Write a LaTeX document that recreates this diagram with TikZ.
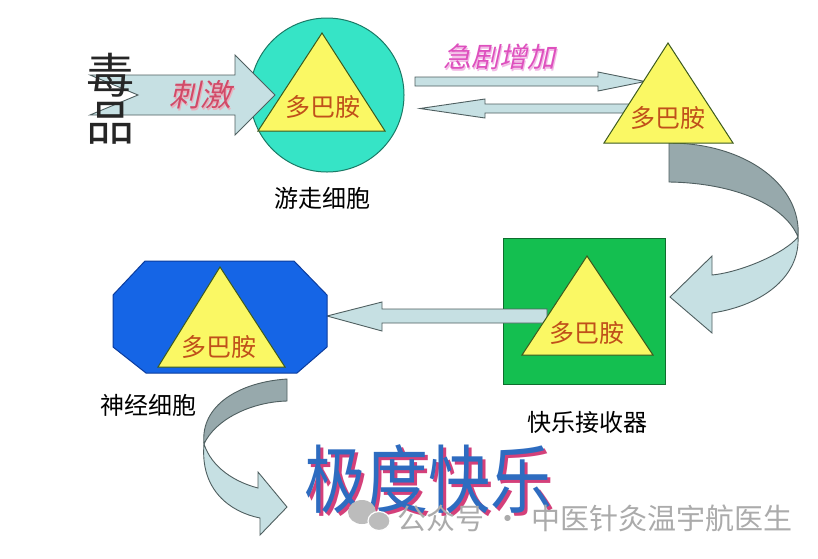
\documentclass[tikz,border=0pt]{standalone}
\usepackage{fontspec}
\newfontfamily\cjk{Noto Sans CJK SC}
\newfontfamily\cjkit[FakeSlant=0.22]{Noto Sans CJK SC}
\definecolor{circ}{HTML}{36E4C6}
\definecolor{circedge}{HTML}{1B7A66}
\definecolor{triyel}{HTML}{FAF864}
\definecolor{triedge}{HTML}{3C5A1E}
\definecolor{sqgreen}{HTML}{14BF50}
\definecolor{sqedge}{HTML}{0E6E2E}
\definecolor{octblue}{HTML}{1565E6}
\definecolor{octedge}{HTML}{0B3C9E}
\definecolor{arrlight}{HTML}{C6E0E3}
\definecolor{arrdark}{HTML}{97A9AC}
\definecolor{arredge}{HTML}{4F5F60}
\definecolor{dopatext}{HTML}{C0501A}
\definecolor{stimred}{HTML}{D24A68}
\definecolor{risepink}{HTML}{DE50BE}
\definecolor{joyblue}{HTML}{2E6CC0}
\definecolor{joyshadow}{HTML}{D4407A}
\definecolor{wmgrey}{HTML}{ABABAB}
\begin{document}
\begin{tikzpicture}[x=1pt,y=-1pt,
  every node/.style={inner sep=0pt},
  tri/.style={fill=triyel, draw=triedge, line width=1pt, line join=miter},
  lbl/.style={font=\cjk\fontsize{24}{24}\selectfont, text=black},
  dopa/.style={font=\cjk\fontsize{25}{25}\selectfont, text=dopatext},
  blockarrow/.style={fill=arrlight, draw=arredge, line width=0.9pt, line join=miter},
  backband/.style={fill=arrdark, draw=arredge, line width=0.9pt, line join=miter},
]
\useasboundingbox (0,0) rectangle (818,558);
\fill[white] (0,0) rectangle (818,558);

% wandering cell
\node[circle, minimum size=154pt, fill=circ, draw=circedge, line width=1pt] (cell1) at (327,95) {};
% stimulus arrow
\draw[blockarrow] (90,75) -- (235,75) -- (235,55) -- (275,95) -- (235,135) -- (235,115) -- (90,115) -- (138,95) -- cycle;
\node[font=\cjkit\fontsize{31}{31}\selectfont, text=stimred!45] at (201.5,96.5) {刺激};
\node[font=\cjkit\fontsize{31}{31}\selectfont, text=stimred] (stim) at (200,95) {刺激};
\draw[tri] (322,33) -- (385,131) -- (258,131) -- cycle;
\node[dopa] (d1) at (323,107) {多巴胺};
\node[font=\cjk\fontsize{48}{48}\selectfont, text=black!85] (du) at (110,75) {毒};
\node[font=\cjk\fontsize{48}{48}\selectfont, text=black!85] (pin) at (110,123) {品};
\node[lbl] (l1) at (322,198) {游走细胞};

% thin arrows
\draw[blockarrow] (415,77) -- (598,77) -- (598,72) -- (645,81.5) -- (598,91) -- (598,86) -- (415,86) -- cycle;
\draw[blockarrow] (640,104) -- (485,104) -- (485,99) -- (420,108.5) -- (485,118) -- (485,113) -- (640,113) -- cycle;
\node[font=\cjkit\fontsize{28}{28}\selectfont, text=risepink!40] at (500.5,58.5) {急剧增加};
\node[font=\cjkit\fontsize{28}{28}\selectfont, text=risepink] (rise) at (499,57) {急剧增加};

% curved arrow top right
\draw[backband] (669,143) .. controls (745,143) and (802,185) .. (798,237)
   .. controls (785,205) and (735,183) .. (669,182) -- cycle;
\draw[blockarrow] (798,237) .. controls (800,275) and (765,305) .. (712,313)
   -- (712,333) -- (670,297) -- (712,256) -- (712,275)
   .. controls (742,272) and (785,253) .. (798,237) -- cycle;
\draw[tri] (668,43) -- (733,143) -- (604,143) -- cycle;
\node[dopa] (d2) at (668,118) {多巴胺};

% pleasure receptor
\node[rectangle, minimum width=162pt, minimum height=146pt, fill=sqgreen, draw=sqedge, line width=1pt] (recv) at (584,311) {};
\draw[blockarrow] (547,309) -- (382,309) -- (382,302) -- (327,316) -- (382,331) -- (382,323) -- (547,323) -- cycle;
\draw[tri] (587,256) -- (653,355) -- (522,355) -- cycle;
\node[dopa] (d3) at (587,333) {多巴胺};
\node[lbl] (l3) at (587,422) {快乐接收器};

% nerve cell
\draw[fill=octblue, draw=octedge, line width=1pt] (145,261) -- (294,261) -- (327,295) -- (327,347) -- (297,373) -- (146,373) -- (113,347) -- (113,295) -- cycle;
\draw[tri] (220,267) -- (285,367) -- (158,367) -- cycle;
\node[dopa] (d4) at (219,347) {多巴胺};
\node[lbl] (l4) at (148,405) {神经细胞};

% curved arrow bottom left
\draw[backband] (287,379) .. controls (240,382) and (200,405) .. (204,444)
   .. controls (215,420) and (250,402) .. (287,401) -- cycle;
\draw[blockarrow] (204,444) .. controls (200,490) and (230,512) .. (260,518)
   -- (260,535) -- (287,507) -- (258,472) -- (258,488)
   .. controls (235,482) and (212,468) .. (204,444) -- cycle;

% extreme pleasure
\node[font=\cjk\fontsize{62}{62}\selectfont, text=joyshadow] at (431,482) {\scalebox{1}[1.2]{极度快乐}};
\node[font=\cjk\fontsize{62}{62}\selectfont, text=joyblue] (joy) at (428,479) {\scalebox{1}[1.2]{极度快乐}};

% watermark
\fill[wmgrey!80] (362,512) ellipse [x radius=14, y radius=12];
\draw[fill=wmgrey!80, draw=white, line width=1.2pt] (379,521) ellipse [x radius=11, y radius=9.5];
\node[font=\cjk\fontsize{29}{29}\selectfont, text=wmgrey, anchor=west] (wm) at (397,518) {公众号\hspace{9pt}·\hspace{9pt}中医针灸温宇航医生};
\end{tikzpicture}
\end{document}
